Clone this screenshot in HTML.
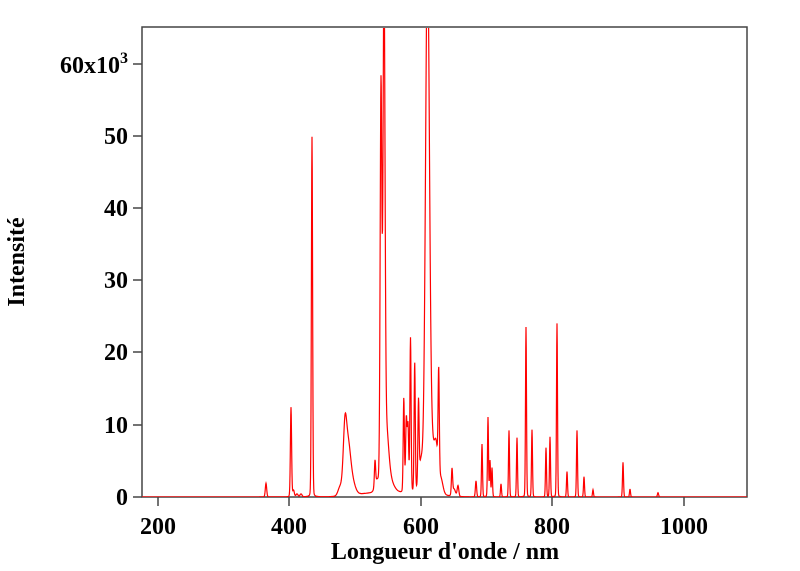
<!DOCTYPE html>
<html><head><meta charset="utf-8"><style>
html,body{margin:0;padding:0;background:#fff;}
svg{display:block}
text{font-family:"Liberation Serif",serif;font-weight:bold;fill:#000}
</style></head><body>
<svg id="s" width="800" height="571" viewBox="0 0 800 571">
<defs><clipPath id="c"><rect x="142" y="28" width="605" height="469"/></clipPath></defs>
<rect x="142" y="27" width="605" height="470" fill="none" stroke="#444" stroke-width="1.5"/>
<g stroke="#444" stroke-width="1.5">
<line x1="133" y1="497" x2="142" y2="497"/><line x1="133" y1="425" x2="142" y2="425"/>
<line x1="133" y1="352" x2="142" y2="352"/><line x1="133" y1="280" x2="142" y2="280"/>
<line x1="133" y1="208" x2="142" y2="208"/><line x1="133" y1="136" x2="142" y2="136"/>
<line x1="133" y1="64" x2="142" y2="64"/>
<line x1="158" y1="497" x2="158" y2="506"/><line x1="289" y1="497" x2="289" y2="506"/>
<line x1="421" y1="497" x2="421" y2="506"/><line x1="552" y1="497" x2="552" y2="506"/>
<line x1="684" y1="497" x2="684" y2="506"/>
</g>
<g font-size="24" text-anchor="end">
<text x="128" y="505">0</text><text x="128" y="433">10</text><text x="128" y="360">20</text>
<text x="128" y="288">30</text><text x="128" y="216">40</text><text x="128" y="144">50</text>
<text x="128" y="73">60x10<tspan font-size="16" dy="-10">3</tspan></text>
</g>
<g font-size="24" text-anchor="middle">
<text x="158" y="534">200</text><text x="289" y="534">400</text><text x="421" y="534">600</text>
<text x="552" y="534">800</text><text x="684" y="534">1000</text>
<text x="445" y="559">Longueur d'onde / nm</text>
<text transform="translate(24,262) rotate(-90)">Intensité</text>
</g>
<path id="p" clip-path="url(#c)" fill="none" stroke="#f00" stroke-width="1.2" d=""/>
</svg>
<script>
var P=[[266,1.9,0.7],[291,12.4,0.6],[293.5,0.9,0.8],[297,0.4,1],[301,0.4,1],[312,49.8,0.6],
[345,9.5,1.8],[348.5,5.5,2.2],[352,2,3],[340,1.2,2],
[375,3.5,0.6],[377,1.5,2],[381,55,0.85],[384,66,1.0],[386,8,2.5],[390,1.5,4],
[403.8,13,0.6],[406.3,10,0.7],[408,9,0.7],[410.5,21.3,0.6],[414.7,17.8,0.6],[418.5,11,0.6],[421,4,2],
[427.5,75,2],[432,4.5,2],[436,6.5,2],[438.7,14,0.6],[441,2,2],
[452,3.5,0.6],[454,1,1.5],[458,1.5,0.8],[476,2.2,0.6],[482,7.3,0.5],[488,11,0.5],[490,5,0.5],[492,4,0.5],[501,1.8,0.5],[509,9.2,0.5],[517,8.2,0.5],[526,23.5,0.5],[532,9.3,0.5],[546,6.8,0.5],[550,8.3,0.5],[557,24,0.5],[567,3.5,0.5],[577,9.2,0.5],[584,2.8,0.5],[593,1,0.5],[623,4.8,0.5],[630,1.1,0.5],[658,0.6,0.6]];
var d="";
for(var x=142;x<=747;x+=0.25){var I=0;for(var i=0;i<P.length;i++){var t=(x-P[i][0])/P[i][2];I+=P[i][1]*(0.9*Math.exp(-t*t/2)+0.1/(1+t*t));}
I+=0.5*Math.exp(-Math.pow((x-395)/45,4));
var y=497-7.23*I;if(y<10)y=10;d+=(d?"L":"M")+x.toFixed(2)+","+y.toFixed(1);}
document.getElementById("p").setAttribute("d",d);
</script>
</body></html>
